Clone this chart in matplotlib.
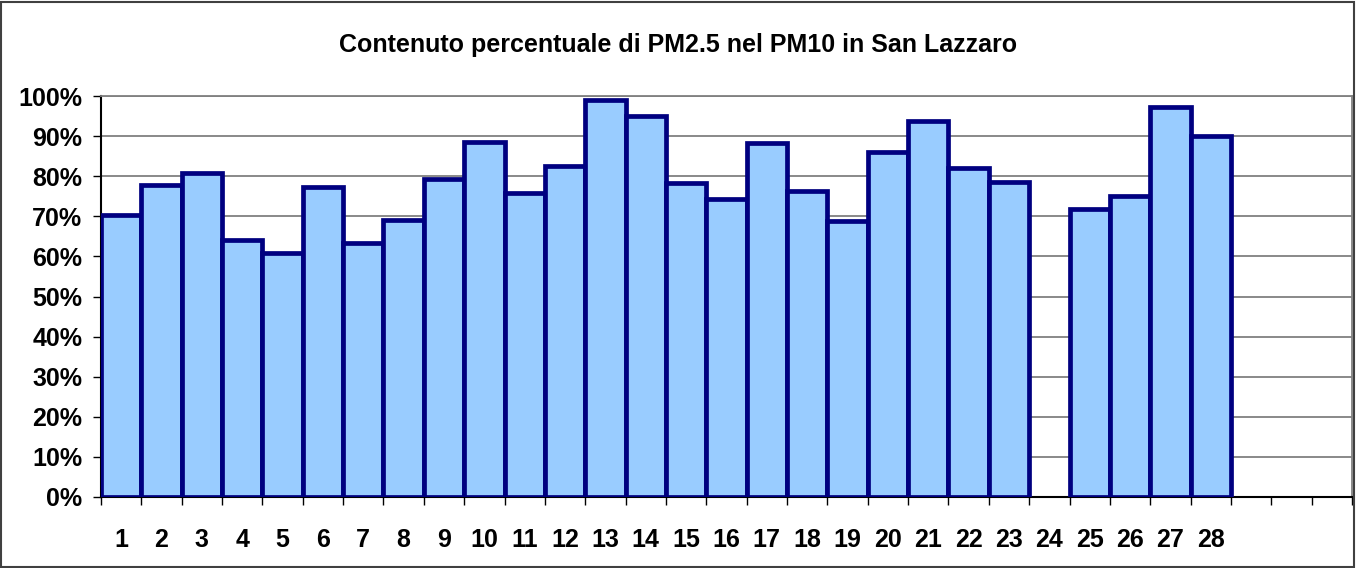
import numpy as np
import matplotlib
matplotlib.use("Agg")
import matplotlib.pyplot as plt
from matplotlib.patches import Rectangle
from matplotlib.ticker import PercentFormatter

# percentuale PM2.5 / PM10, giorni del mese (24 mancante)
days = list(range(1, 32))
day_labels = [str(d) for d in range(1, 29)] + ["", "", ""]
pm_ratio = [70.2, 77.7, 80.8, 64.2, 60.8, 77.3, 63.3, 69.0, 79.3, 88.5,
            75.7, 82.5, 99.0, 95.0, 78.3, 74.2, 88.2, 76.2, 68.8, 86.0,
            93.7, 82.0, 78.5, np.nan, 71.7, 75.0, 97.2, 90.0,
            np.nan, np.nan, np.nan]

plt.rcParams['font.family'] = ['Liberation Sans', 'DejaVu Sans']
plt.rcParams['font.weight'] = 'bold'

fig = plt.figure(figsize=(13.57, 5.68), dpi=100)
ax = fig.add_axes([101/1357, 1 - 497/568, 1251/1357, 401/568])

x = np.array(days, dtype=float)
y = np.array(pm_ratio) / 100
ok = ~np.isnan(y)
ax.bar(x[ok], y[ok], width=1.0, color='#99CCFF', edgecolor='#000080',
       linewidth=3.4, zorder=3)

ax.set_xlim(0.5, 31.5)
ax.set_ylim(0, 1)
ax.set_yticks(np.arange(0, 1.01, 0.1))
ax.yaxis.set_major_formatter(PercentFormatter(1.0, decimals=0))
ax.grid(axis='y', color='#808080', linewidth=1.3, zorder=0)
ax.set_axisbelow(True)

# tick marks between categories, labels at centres
ax.set_xticks(np.arange(0.5, 32, 1.0))
ax.set_xticklabels([])
ax.set_xticks(x, minor=True)
ax.set_xticklabels(day_labels, minor=True)
ax.tick_params(axis='x', which='major', length=6, width=1, color='black')
ax.tick_params(axis='x', which='minor', length=0, pad=22, labelsize=18)
ax.tick_params(axis='y', length=5.5, width=1, pad=8, labelsize=18)

for s in ['left', 'bottom']:
    ax.spines[s].set_color('black')
    ax.spines[s].set_linewidth(1.5)
for s in ['top', 'right']:
    ax.spines[s].set_color('#808080')
    ax.spines[s].set_linewidth(1.3)

fig.text(0.5, 1 - 52/568, "Contenuto percentuale di PM2.5 nel PM10 in San Lazzaro",
         ha='center', va='baseline', fontsize=18, fontweight='bold')

# bordo esterno del grafico
fig.patches.append(Rectangle((0.001, 0.002), 0.997, 0.995, transform=fig.transFigure,
                             fill=False, edgecolor='#404040', linewidth=1.5))

fig.savefig("out.png", dpi=100)
